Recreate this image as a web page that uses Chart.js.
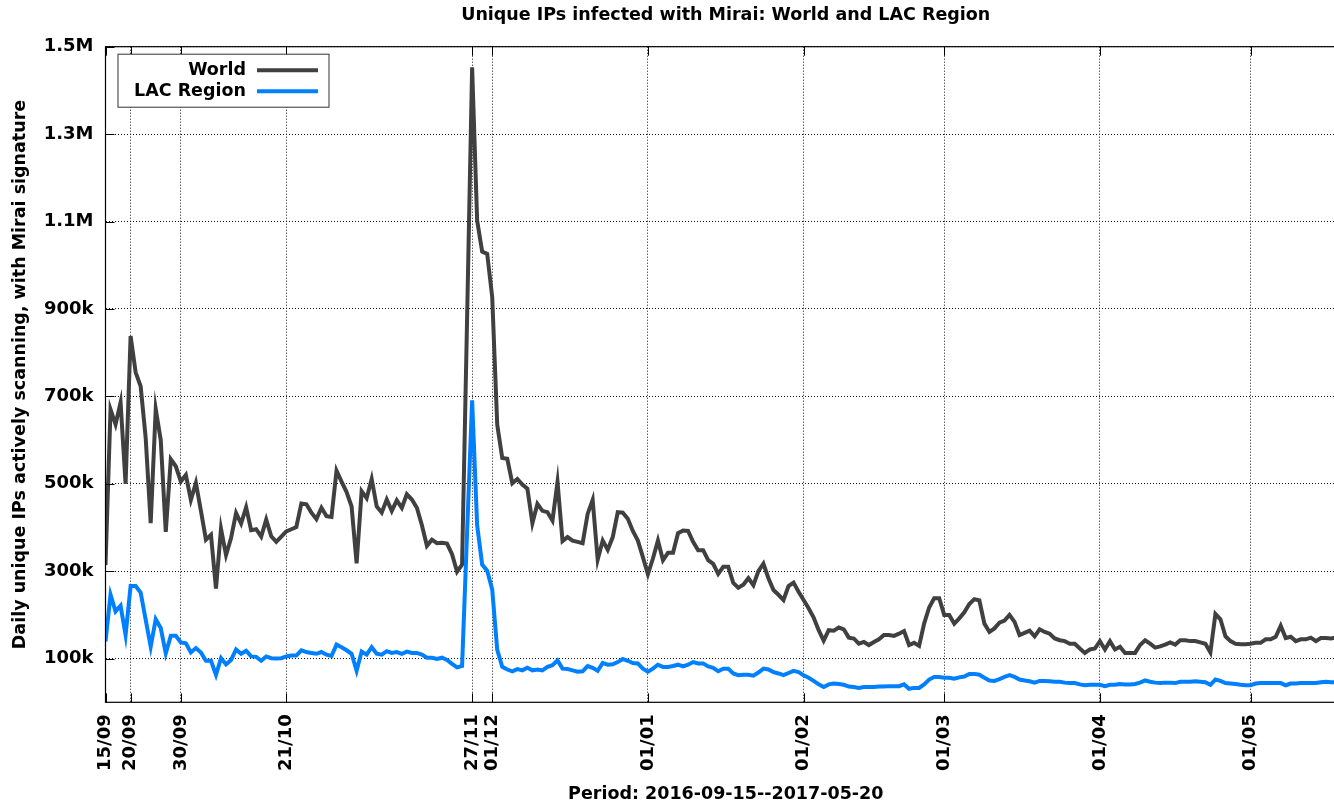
<!DOCTYPE html>
<html>
<head>
<meta charset="utf-8">
<title>Unique IPs infected with Mirai</title>
<script src="https://cdn.jsdelivr.net/npm/chart.js@4.4.1/dist/chart.umd.min.js"></script>
<style>
  html, body { margin: 0; padding: 0; background: #fff; overflow: hidden; }
  #wrap { width: 1360px; height: 803px; }
</style>
</head>
<body>
<div id="wrap"><canvas id="c" width="1360" height="803"></canvas></div>
<script>
// x = day number, day 0 = 2016-09-15, day 247 = 2017-05-20
const xTickDays = [0, 5, 15, 36, 73, 77, 108, 139, 167, 198, 228]
const xTickLabels = ['15/09', '20/09', '30/09', '21/10', '27/11', '01/12', '01/01', '01/02', '01/03', '01/04', '01/05']
// y in thousands of IPs
const yTickValues = [100, 300, 500, 700, 900, 1100, 1300, 1500]
const yTickLabels = ['100k', '300k', '500k', '700k', '900k', '1.1M', '1.3M', '1.5M']

const worldK = [
  314, 670, 636, 686, 500, 838, 755, 723, 605, 410,
  671, 600, 390, 556, 540, 505, 520, 463, 502, 438,
  372, 383, 260, 397, 337, 376, 433, 409, 446, 394,
  396, 379, 418, 380, 367, 379, 391, 396, 401, 455,
  453, 434, 419, 445, 426, 424, 530, 505, 481, 448,
  318, 483, 467, 511, 448, 434, 464, 438, 462, 445,
  476, 464, 445, 405, 358, 372, 364, 365, 363, 339,
  299, 315, 880, 1453, 1102, 1031, 1026, 927, 635, 559,
  557, 501, 511, 498, 489, 410, 454, 438, 435, 416,
  504, 369, 378, 370, 367, 364, 431, 463, 326, 370,
  349, 378, 435, 434, 420, 392, 370, 332, 293, 329,
  370, 325, 342, 342, 387, 393, 392, 367, 348, 348,
  325, 317, 294, 310, 310, 273, 262, 269, 284, 268,
  300, 317, 284, 257, 246, 234, 266, 274, 253, 234,
  215, 194, 165, 141, 165, 164, 171, 167, 148, 146,
  134, 138, 131, 138, 144, 154, 154, 152, 157, 163,
  131, 136, 129, 180, 217, 238, 238, 200, 200, 180,
  192, 206, 225, 236, 233, 180, 161, 169, 182, 187,
  200, 184, 154, 159, 164, 151, 167, 161, 157, 146,
  142, 140, 134, 134, 123, 113, 121, 123, 140, 121,
  140, 121, 127, 113, 113, 113, 131, 142, 134, 125,
  128, 132, 137, 132, 142, 142, 140, 140, 137, 134,
  114, 202, 190, 151, 140, 134, 133, 133, 134, 136,
  136, 144, 144, 150, 175, 147, 150, 140, 144, 144,
  148, 140, 147, 147, 146, 148, 146, 147
]

const lacK = [
  139, 246, 208, 221, 154, 266, 266, 251, 189, 127,
  190, 170, 112, 152, 152, 137, 135, 114, 124, 114,
  95, 95, 63, 101, 87, 97, 121, 111, 118, 105,
  104, 95, 105, 101, 100, 101, 105, 107, 107, 119,
  115, 113, 111, 115, 109, 106, 132, 126, 119, 111,
  72, 116, 109, 126, 111, 109, 117, 113, 115, 111,
  116, 113, 113, 109, 102, 102, 99, 102, 97, 88,
  80, 83, 390, 691, 405, 315, 301, 258, 120, 81,
  75, 71, 76, 73, 79, 73, 75, 73, 81, 85,
  96, 77, 76, 73, 70, 71, 83, 79, 72, 90,
  86, 87, 92, 99, 95, 90, 89, 77, 70, 77,
  86, 81, 81, 83, 86, 82, 86, 92, 89, 89,
  82, 79, 71, 77, 77, 66, 62, 63, 63, 61,
  68, 77, 75, 69, 66, 62, 67, 72, 69, 62,
  56, 49, 41, 35, 41, 43, 42, 40, 36, 35,
  33, 35, 35, 35, 36, 36, 37, 37, 37, 41,
  31, 33, 33, 41, 52, 58, 58, 56, 56, 54,
  57, 59, 65, 65, 63, 56, 50, 49, 53, 58,
  62, 58, 52, 50, 48, 45, 49, 49, 48, 47,
  47, 45, 44, 44, 41, 39, 40, 40, 40, 37,
  40, 40, 42, 41, 41, 42, 45, 50, 47, 45,
  44, 45, 45, 44, 47, 47, 47, 48, 47, 46,
  40, 52, 49, 44, 43, 42, 40, 39, 39, 43,
  44, 44, 44, 44, 44, 39, 43, 43, 44, 44,
  44, 44, 46, 47, 46, 46, 46, 46
]

Chart.defaults.font.family = '"DejaVu Sans", sans-serif'
Chart.defaults.font.size = 17.5
Chart.defaults.font.weight = 'bold'
Chart.defaults.color = '#000'

// gnuplot-ish frame with inward ticks + boxed legend in the top left corner
const frameAndKey = {
  id: 'frameAndKey',
  afterDatasetsDraw(chart) {
    const ctx = chart.ctx
    const a = chart.chartArea
    const xs = chart.scales.x, ys = chart.scales.y
    ctx.save()
    ctx.strokeStyle = '#000'
    ctx.lineWidth = 1.2
    ctx.strokeRect(a.left, a.top, a.right - a.left, a.bottom - a.top)

    ctx.lineWidth = 1
    ctx.beginPath()
    xs.ticks.forEach(function (t) {
      const px = Math.round(xs.getPixelForValue(t.value)) + 0.5
      ctx.moveTo(px, a.bottom); ctx.lineTo(px, a.bottom - 9)
      ctx.moveTo(px, a.top); ctx.lineTo(px, a.top + 9)
    })
    ys.ticks.forEach(function (t) {
      const py = Math.round(ys.getPixelForValue(t.value)) + 0.5
      ctx.moveTo(a.left, py); ctx.lineTo(a.left + 9, py)
    })
    ctx.stroke()

    // key
    const x0 = a.left + 12.5, y0 = a.top + 7.5
    ctx.fillStyle = '#fff'
    ctx.fillRect(x0, y0, 211, 53)
    ctx.strokeStyle = '#333'
    ctx.lineWidth = 1
    ctx.strokeRect(x0, y0, 211, 53)
    ctx.font = 'bold 17.5px "DejaVu Sans"'
    ctx.textAlign = 'right'
    ctx.textBaseline = 'middle'
    chart.data.datasets.forEach(function (ds, i) {
      const y = y0 + 16 + i * 21
      ctx.fillStyle = '#000'
      ctx.fillText(ds.label, x0 + 128, y)
      ctx.strokeStyle = ds.borderColor
      ctx.lineWidth = ds.borderWidth
      ctx.beginPath()
      ctx.moveTo(x0 + 139, y)
      ctx.lineTo(x0 + 200, y)
      ctx.stroke()
    })
    ctx.restore()
  }
}

const gridStyle = { color: '#111', lineWidth: 1, drawTicks: false }
const borderStyle = { display: false, dash: [1, 2] }

new Chart(document.getElementById('c'), {
  type: 'line',
  data: {
    datasets: [
      {
        label: 'World',
        data: worldK.map(function (v, i) { return { x: i, y: v } }),
        borderColor: '#404040',
        borderWidth: 4,
        pointRadius: 0,
        tension: 0,
        order: 2
      },
      {
        label: 'LAC Region',
        data: lacK.map(function (v, i) { return { x: i, y: v } }),
        borderColor: '#0080ff',
        borderWidth: 4,
        pointRadius: 0,
        tension: 0,
        order: 1
      }
    ]
  },
  options: {
    responsive: false,
    animation: false,
    events: [],
    layout: { padding: { left: 0, right: 14, top: 0, bottom: 0 } },
    plugins: {
      legend: { display: false },
      tooltip: { enabled: false },
      title: {
        display: true,
        fullSize: false,
        text: 'Unique IPs infected with Mirai: World and LAC Region',
        color: '#000',
        font: { size: 17.5, weight: 'bold', lineHeight: 1.2 },
        padding: { top: 4.5, bottom: 21.2 }
      }
    },
    scales: {
      x: {
        type: 'linear',
        min: 0,
        max: 247,
        afterBuildTicks: function (s) { s.ticks = xTickDays.map(function (d) { return { value: d } }) },
        afterFit: function (s) { s.height = 100.7 },
        ticks: {
          autoSkip: false,
          minRotation: 90,
          maxRotation: 90,
          padding: 12,
          color: '#000',
          font: { size: 18 },
          callback: function (v, i) { return xTickLabels[i] }
        },
        grid: gridStyle,
        border: borderStyle,
        title: {
          display: true,
          text: 'Period: 2016-09-15--2017-05-20',
          color: '#000',
          font: { lineHeight: 1 },
          padding: { top: 0, bottom: 0 }
        }
      },
      y: {
        min: 0,
        max: 1500,
        afterBuildTicks: function (s) { s.ticks = yTickValues.map(function (v) { return { value: v } }) },
        afterFit: function (s) { s.width = 105.5 },
        ticks: {
          padding: 12,
          color: '#000',
          font: { size: 18 },
          callback: function (v, i) { return yTickLabels[i] }
        },
        grid: gridStyle,
        border: borderStyle,
        title: {
          display: true,
          text: 'Daily unique IPs actively scanning, with Mirai signature',
          color: '#000',
          padding: { top: 10, bottom: 0 }
        }
      }
    }
  },
  plugins: [frameAndKey]
})
</script>
</body>
</html>
